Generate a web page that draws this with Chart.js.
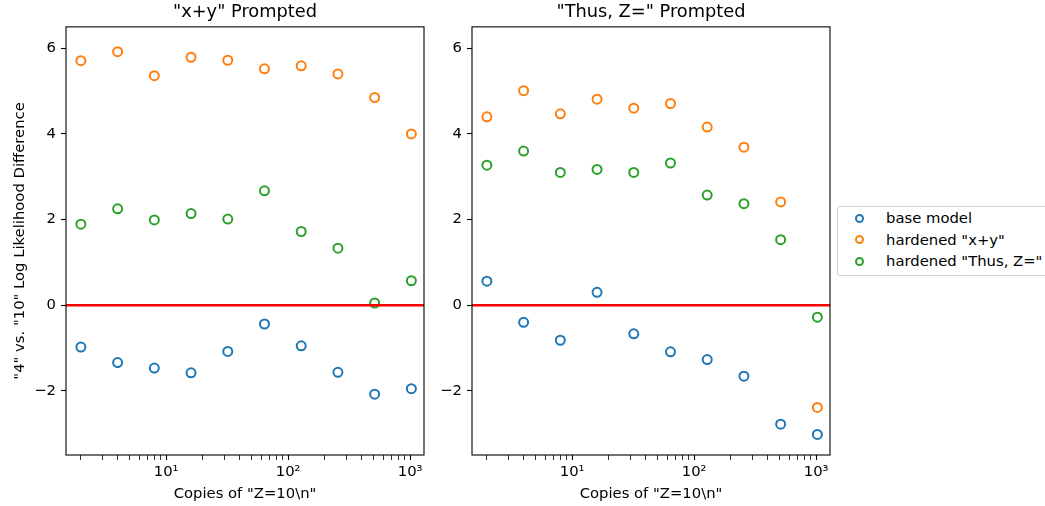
<!DOCTYPE html>
<html>
<head>
<meta charset="utf-8">
<script src="https://cdn.jsdelivr.net/npm/chart.js@4.4.0/dist/chart.umd.min.js"></script>
<style>
body { margin:0; background:#fff; width:1045px; height:506px; overflow:hidden; position:relative; font-family:"DejaVu Sans", sans-serif; }
.panel { position:absolute; top:0; height:506px; }
#legend { position:absolute; left:837px; top:206px; width:240px; height:70px; border:1px solid #d4d4d4; border-radius:3px; background:#fff; box-sizing:border-box; font-size:14.8px; color:#000; }
.row { position:absolute; left:0; height:20px; line-height:20px; white-space:nowrap; }
.mk { position:absolute; left:16.5px; top:5.5px; width:9px; height:9px; border-radius:50%; box-sizing:border-box; border:2px solid; }
.lb { position:absolute; left:48px; top:0; }
</style>
</head>
<body>
<div class="panel" style="left:0;width:440px"><canvas id="leftChart"></canvas></div>
<div class="panel" style="left:430px;width:410px"><canvas id="rightChart"></canvas></div>
<div id="legend"></div>
<script>
// data
const copies = [2, 4, 8, 16, 32, 64, 128, 256, 512, 1024];

const seriesNames = ['base model', 'hardened "x+y"', 'hardened "Thus, Z="'];
const seriesColors = ['#1f77b4', '#ff7f0e', '#2ca02c'];

// "x+y" prompted
const xyBase = [-0.98, -1.34, -1.47, -1.58, -1.08, -0.44, -0.95, -1.57, -2.08, -1.95];
const xyHardXY = [5.71, 5.92, 5.36, 5.79, 5.72, 5.52, 5.59, 5.40, 4.85, 4.00];
const xyHardThus = [1.89, 2.25, 1.99, 2.14, 2.01, 2.67, 1.72, 1.33, 0.05, 0.57];

// "Thus, Z=" prompted
const thusBase = [0.56, -0.40, -0.82, 0.30, -0.67, -1.09, -1.27, -1.66, -2.78, -3.02];
const thusHardXY = [4.40, 5.01, 4.47, 4.81, 4.60, 4.71, 4.16, 3.69, 2.41, -2.39];
const thusHardThus = [3.27, 3.60, 3.10, 3.17, 3.10, 3.32, 2.57, 2.37, 1.53, -0.28];

const panelTitles = ['"x+y" Prompted', '"Thus, Z=" Prompted'];
const xTitle = 'Copies of "Z=10\\n"';
const yTitle = '"4" vs. "10" Log Likelihood Difference';

const xLimits = [1.51, 1300];
const yLimits = [-3.5, 6.5];
const yTicks = [-2, 0, 2, 4, 6];
const majorLabels = { 10: '10\u00b9', 100: '10\u00b2', 1000: '10\u00b3' };
const xTickVals = [];
[1, 10, 100].forEach(d => { for (let k = 2; k <= 10; k++) xTickVals.push(k * d); });

Chart.defaults.font.family = '"DejaVu Sans", sans-serif';
Chart.defaults.font.size = 14.8;
Chart.defaults.color = '#000';

const frame = {
    id: 'frame',
    afterDatasetsDraw(chart) {
        const { ctx, chartArea: a } = chart;
        ctx.save();
        ctx.strokeStyle = '#000';
        ctx.lineWidth = 1.1;
        ctx.strokeRect(a.left, a.top, a.right - a.left, a.bottom - a.top);
        ctx.restore();
    }
};

const makeChart = (id, title, series, showYTitle, yWidth, rightPad) => {
    const datasets = [{
        type: 'line',
        data: [{ x: xLimits[0], y: 0 }, { x: xLimits[1], y: 0 }],
        borderColor: '#ff0000',
        borderWidth: 2.5,
        pointRadius: 0,
        order: -1
    }];
    series.forEach((vals, i) => {
        datasets.push({
            label: seriesNames[i],
            data: copies.map((c, j) => ({ x: c, y: vals[j] })),
            borderColor: seriesColors[i],
            backgroundColor: 'rgba(0,0,0,0)',
            pointRadius: 4.5,
            borderWidth: 2,
            order: 3 - i
        });
    });

    const tickGrid = {
        drawOnChartArea: false,
        drawTicks: true,
        tickLength: 5,
        tickColor: '#000',
        tickWidth: c => (c.tick && c.tick.major) ? 1.1 : 0.8
    };

    new Chart(document.getElementById(id), {
        type: 'scatter',
        data: { datasets },
        options: {
            responsive: true,
            maintainAspectRatio: false,
            devicePixelRatio: 1,
            animation: false,
            layout: { padding: { left: 0, right: rightPad, top: 0, bottom: 0 } },
            plugins: {
                legend: { display: false },
                tooltip: { enabled: false },
                title: {
                    display: true,
                    text: title,
                    fullSize: false,
                    color: '#000',
                    font: { size: 17.8, weight: 'normal' },
                    padding: { top: 1.5, bottom: 4 }
                }
            },
            scales: {
                x: {
                    type: 'logarithmic',
                    min: xLimits[0],
                    max: xLimits[1],
                    afterBuildTicks: s => { s.ticks = xTickVals.map(v => ({ value: v, major: v in majorLabels })); },
                    afterFit: s => { s.height = 51; },
                    ticks: {
                        autoSkip: false,
                        maxRotation: 0,
                        padding: 3,
                        color: '#000',
                        callback: v => majorLabels[v] || ''
                    },
                    grid: tickGrid,
                    border: { display: false },
                    title: { display: true, text: xTitle, color: '#000', padding: { top: 4, bottom: 3 } }
                },
                y: {
                    min: yLimits[0],
                    max: yLimits[1],
                    afterBuildTicks: s => { s.ticks = yTicks.map(v => ({ value: v, major: true })); },
                    afterFit: s => { s.width = yWidth; },
                    ticks: {
                        padding: 5,
                        color: '#000',
                        callback: v => v < 0 ? '\u2212' + Math.abs(v) : String(v)
                    },
                    grid: tickGrid,
                    border: { display: false },
                    title: { display: showYTitle, text: yTitle, color: '#000', padding: { top: 11.6, bottom: 0 } }
                }
            }
        },
        plugins: [frame]
    });
};

makeChart('leftChart', panelTitles[0], [xyBase, xyHardXY, xyHardThus], true, 66, 16);
makeChart('rightChart', panelTitles[1], [thusBase, thusHardXY, thusHardThus], false, 42, 10);

// legend
const legend = document.getElementById('legend');
seriesNames.forEach((name, i) => {
    legend.innerHTML += `
        <div class="row" style="top:${i * 21.7 + 1}px">
            <span class="mk" style="border-color:${seriesColors[i]}"></span>
            <span class="lb">${name.replace(/"/g, '&quot;')}</span>
        </div>`;
});
</script>
</body>
</html>
